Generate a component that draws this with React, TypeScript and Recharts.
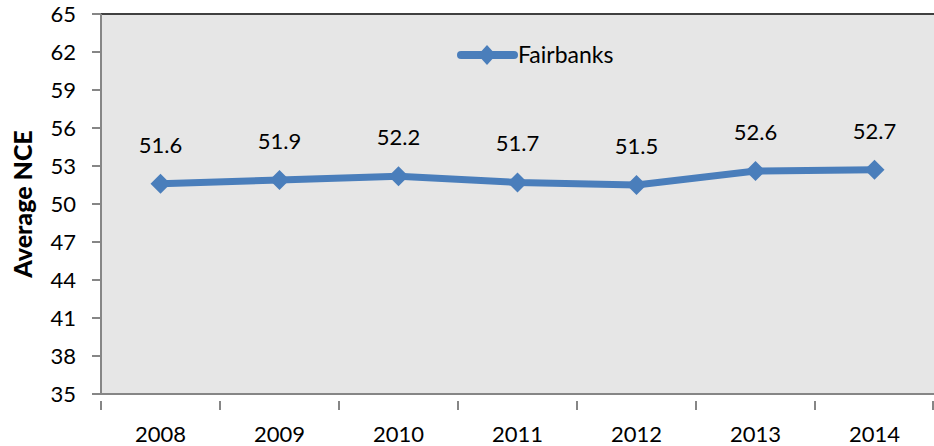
import React from 'react'
import { LineChart, Line, XAxis, YAxis, CartesianGrid, ReferenceLine, LabelList } from 'recharts'

const YEARS = ['2008', '2009', '2010', '2011', '2012', '2013', '2014']
const FAIRBANKS = [51.6, 51.9, 52.2, 51.7, 51.5, 52.6, 52.7]
const Y_TICKS = [35, 38, 41, 44, 47, 50, 53, 56, 59, 62, 65]

const BLUE = '#4A7EBB'
const FONT = 'Lato, "Open Sans", sans-serif'
const W = 934
const H = 446
const LEFT = 101

const data = YEARS.map((year, i) => ({ year, value: FAIRBANKS[i] }))

const Diamond = (props: any) => {
  const { cx, cy, index } = props
  if (cx == null || cy == null) return null
  return <path key={`d-${index}`} d={`M${cx - 10},${cy} L${cx},${cy - 10} L${cx + 10},${cy} L${cx},${cy + 10} Z`} fill={BLUE} />
}

const XTick = (props: any) => {
  const { x, y, payload, index } = props
  const band = (W - LEFT) / YEARS.length
  return (
    <g>
      <line x1={x - band / 2} x2={x - band / 2} y1={y - 1} y2={y + 8} stroke="#868686" strokeWidth={2} />
      {index === YEARS.length - 1 && (
        <line x1={x + band / 2 - 1} x2={x + band / 2 - 1} y1={y - 1} y2={y + 8} stroke="#868686" strokeWidth={2} />
      )}
      <text x={x} y={y + 40} textAnchor="middle" fontSize={22} fill="#000" fontFamily={FONT}>{payload.value}</text>
    </g>
  )
}

export default function App() {
  return (
    <div style={{ position: 'absolute', left: 0, top: 0, width: W, height: H, background: '#fff' }}>
      <LineChart width={W} height={H} data={data} margin={{ top: 14, right: 0, bottom: 0, left: 0 }}>
        <CartesianGrid horizontal={false} vertical={false} fill="#E6E6E6" />
        <ReferenceLine y={65} stroke="#404040" strokeWidth={2} />
        <XAxis
          dataKey="year"
          scale="band"
          height={52}
          stroke="#868686"
          strokeWidth={2}
          tickLine={false}
          tick={<XTick />}
          interval={0}
        />
        <YAxis
          width={LEFT}
          domain={[35, 65]}
          ticks={Y_TICKS}
          interval={0}
          stroke="#868686"
          strokeWidth={2}
          tickSize={9}
          tickMargin={16}
          tick={{ fill: '#000', fontSize: 22, fontFamily: FONT }}
          label={{
            value: 'Average NCE',
            angle: -90,
            position: 'insideLeft',
            dx: 18,
            style: { fontSize: 25, fontWeight: 900, fill: '#000', fontFamily: FONT, textAnchor: 'middle' },
          }}
        />
        <Line
          dataKey="value"
          name="Fairbanks"
          stroke={BLUE}
          strokeWidth={7}
          dot={<Diamond />}
          activeDot={false}
          isAnimationActive={false}
        >
          <LabelList dataKey="value" position="top" offset={31} fill="#000" fontSize={22} fontFamily={FONT} formatter={(v: any) => Number(v).toFixed(1)} />
        </Line>
      </LineChart>
      <svg width={180} height={30} style={{ position: 'absolute', left: 452, top: 40 }}>
        <line x1={9} x2={62} y1={15} y2={15} stroke={BLUE} strokeWidth={8} strokeLinecap="round" />
        <path d="M26,15 L35,5 L44,15 L35,25 Z" fill={BLUE} />
        <text x={66} y={23} fontSize={23} fill="#000" fontFamily={FONT}>Fairbanks</text>
      </svg>
    </div>
  )
}
